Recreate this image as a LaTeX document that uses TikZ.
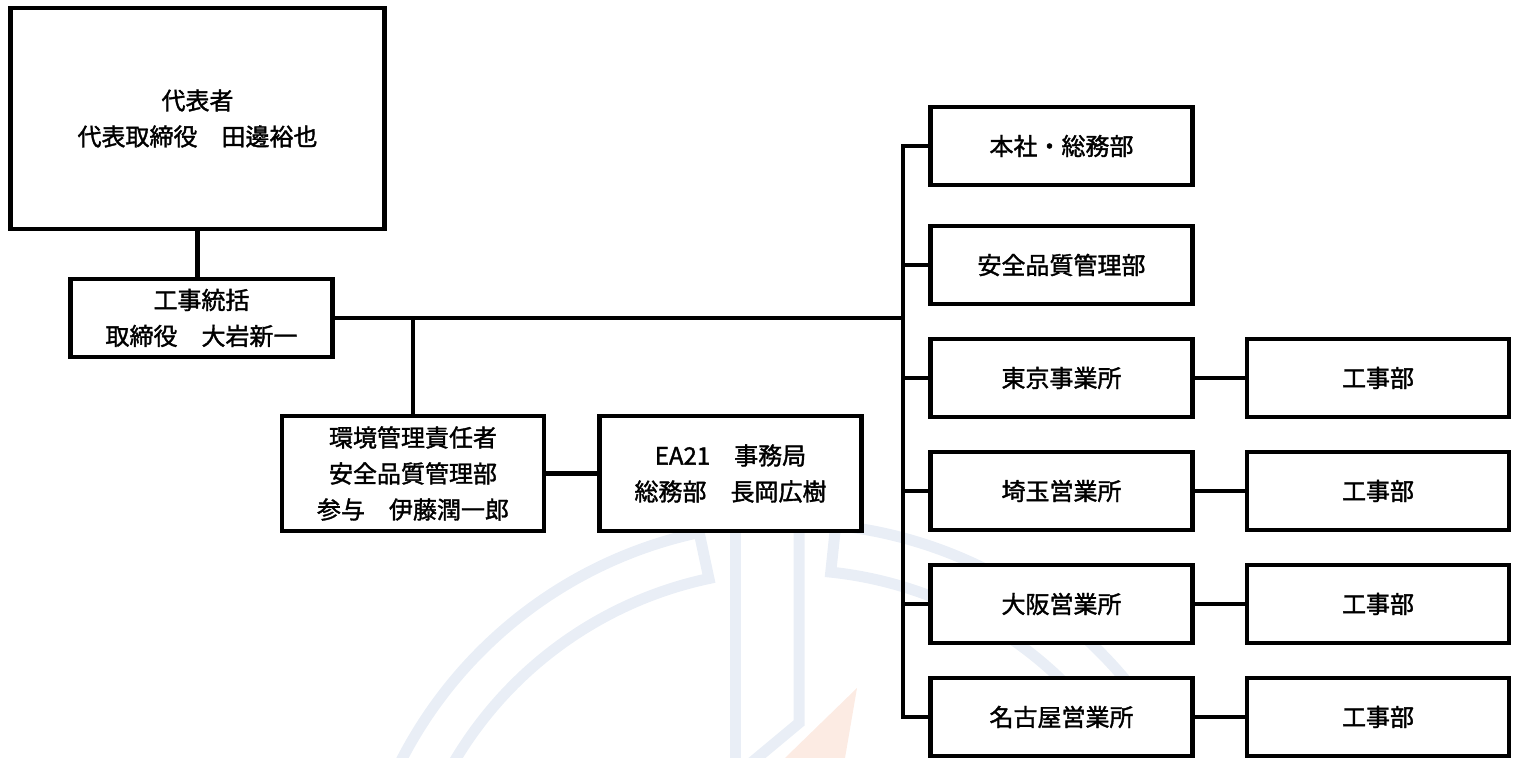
\documentclass[tikz,border=0pt]{standalone}
\usepackage{fontspec}
\setmainfont{Noto Sans CJK JP}[UprightFeatures={FakeBold=1.5}]
\usepackage{tikz}
\usetikzlibrary{positioning}
\usetikzlibrary{calc}
\definecolor{logoblue}{HTML}{E9EEF6}
\definecolor{logored}{HTML}{FCEBE3}
\tikzstyle{unit} = [rectangle,draw,fill=white,line width=4.5pt,align=center,inner sep=0pt,minimum width=262pt,minimum height=78pt]
\tikzstyle{head} = [unit,minimum width=374pt,minimum height=221pt]
\tikzstyle{tall} = [unit,minimum height=115pt]

\begin{document}
\begin{tikzpicture}
	[x=1pt,y=1pt,font=\fontsize{24}{36}\selectfont,node distance=50pt]
	\tikzstyle{link}=[line width=4.5pt];
	\tikzstyle{logo}=[logoblue,line width=11pt];

	\useasboundingbox (0,0) rectangle (1519,758);

	\coordinate (hub) at (790,-202);
	\draw[logo] ($(hub)+(160:437)$) arc[start angle=160,end angle=102,radius=437pt]
		-- ($(hub)+(102:390)$) arc[start angle=102,end angle=160,radius=390pt];
	\draw[logo] ($(hub)+(20:437)$) arc[start angle=20,end angle=84,radius=437pt]
		-- ($(hub)+(84:390)$) arc[start angle=84,end angle=20,radius=390pt];
	\draw[logo] (735,240) -- (735,-10);
	\draw[logo] (799,240) -- (799,35) -- (745,-10);
	\fill[logored] (857,70) -- (845,0) -- (785,0) -- cycle;

	\node (1) [head] at (197.5,639.5) {代表者\\代表取締役　田邊裕也};
	\node (2) [unit] at (201.5,440) {工事統括\\取締役　大岩新一};
	\node (3) [tall] at (413,284.5) {環境管理責任者\\安全品質管理部\\参与　伊藤潤一郎};
	\node (4) [tall,right=51pt of 3] {EA21　事務局\\総務部　長岡広樹};
	\node (5) [unit] at (1061.5,612) {本社・総務部};
	\node (6) [unit,below=36.5pt of 5] {安全品質管理部};
	\node (7) [unit,below=30.5pt of 6] {東京事業所};
	\node (8) [unit,below=30.5pt of 7] {埼玉営業所};
	\node (9) [unit,below=30.5pt of 8] {大阪営業所};
	\node (10) [unit,below=30.5pt of 9] {名古屋営業所};
	\node (11) [unit,right=of 7] {工事部};
	\node (12) [unit,right=of 8] {工事部};
	\node (13) [unit,right=of 9] {工事部};
	\node (14) [unit,right=of 10] {工事部};
	\coordinate (bus) at (903,440);

	\draw[link] (1.south) -- (1.south |- 2.north);
	\draw[link] (2.east) -- (bus);
	\draw[link] (3.north) -- (3.north |- 2.east);
	\draw[link] (5.west) -| (bus) |- (10.west);
	\path[link]
		(3) edge (4)
		(6.west) edge (6.west -| bus)
		(7.west) edge (7.west -| bus)
		(8.west) edge (8.west -| bus)
		(9.west) edge (9.west -| bus)
		(7) edge (11)
		(8) edge (12)
		(9) edge (13)
		(10) edge (14);
\end{tikzpicture}
\end{document}
